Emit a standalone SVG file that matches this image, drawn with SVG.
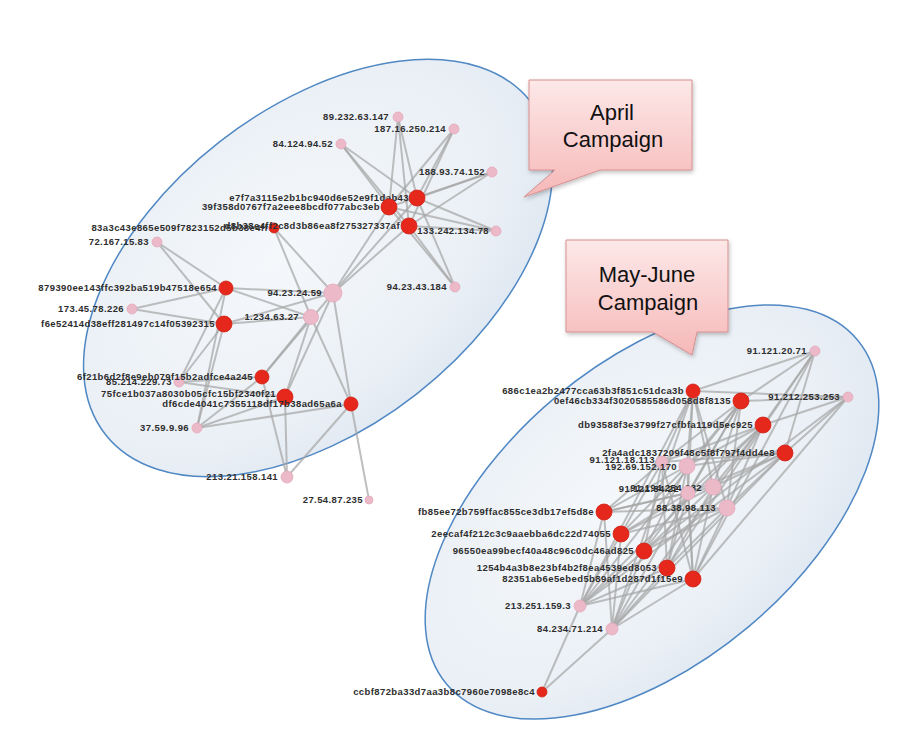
<svg xmlns="http://www.w3.org/2000/svg" width="912" height="738" viewBox="0 0 912 738">
<defs>
<radialGradient id="eg" cx="45%" cy="40%" r="60%">
<stop offset="0" stop-color="#f5f8fb"/>
<stop offset="0.75" stop-color="#ebf0f6"/>
<stop offset="1" stop-color="#e1e9f2"/>
</radialGradient>
<linearGradient id="cg" x1="0" y1="0" x2="0" y2="1">
<stop offset="0" stop-color="#fde8e8"/>
<stop offset="1" stop-color="#f6b8b8"/>
</linearGradient>
<filter id="sh" x="-20%" y="-20%" width="140%" height="140%">
<feDropShadow dx="1" dy="2" stdDeviation="2" flood-color="#000" flood-opacity="0.25"/>
</filter>
</defs>
<style>
.grp{fill:url(#eg);stroke:#5088c4;stroke-width:1.5}
.e line{stroke:#a6a6a6;stroke-width:2;stroke-opacity:0.72;stroke-linecap:round}
.r{fill:#e6281c;stroke:#d11f14;stroke-width:0.8}
.p{fill:#ecb9c9;stroke:#e3a9bb;stroke-width:0.8}
.n text{font-family:"Liberation Sans",Arial,sans-serif;font-weight:bold;font-size:9.5px;letter-spacing:0.4px;fill:#2e2e2e;text-anchor:end}
.call{fill:url(#cg);stroke:#d68f8f;stroke-width:1;filter:url(#sh)}
.ct{font-family:"Liberation Sans",Arial,sans-serif;font-size:22px;fill:#111;text-anchor:middle}
</style>
<rect width="912" height="738" fill="#ffffff"/>
<ellipse id="group-april" class="grp" cx="318" cy="268" rx="270" ry="160" transform="rotate(-38 318 268)"/>
<ellipse id="group-mayjune" class="grp" cx="652" cy="512" rx="268" ry="150" transform="rotate(-40 652 512)"/>

<g id="connectors" class="e">
<line x1="417" y1="198" x2="398" y2="117"/><line x1="417" y1="198" x2="454" y2="129"/><line x1="417" y1="198" x2="341" y2="144"/><line x1="417" y1="198" x2="492" y2="172"/><line x1="417" y1="198" x2="496" y2="231"/><line x1="417" y1="198" x2="455" y2="287"/><line x1="417" y1="198" x2="333" y2="293"/>
<line x1="389" y1="207" x2="398" y2="117"/><line x1="389" y1="207" x2="454" y2="129"/><line x1="389" y1="207" x2="341" y2="144"/><line x1="389" y1="207" x2="492" y2="172"/><line x1="389" y1="207" x2="496" y2="231"/><line x1="389" y1="207" x2="455" y2="287"/><line x1="389" y1="207" x2="333" y2="293"/>
<line x1="409" y1="226" x2="398" y2="117"/><line x1="409" y1="226" x2="454" y2="129"/><line x1="409" y1="226" x2="341" y2="144"/><line x1="409" y1="226" x2="492" y2="172"/><line x1="409" y1="226" x2="496" y2="231"/><line x1="409" y1="226" x2="455" y2="287"/><line x1="409" y1="226" x2="333" y2="293"/>
<line x1="274" y1="228" x2="333" y2="293"/><line x1="274" y1="228" x2="311" y2="317"/>
<line x1="226" y1="288" x2="157" y2="242"/><line x1="224" y1="324" x2="157" y2="242"/>
<line x1="226" y1="288" x2="132" y2="309"/><line x1="224" y1="324" x2="132" y2="309"/>
<line x1="226" y1="288" x2="333" y2="293"/><line x1="226" y1="288" x2="311" y2="317"/>
<line x1="224" y1="324" x2="333" y2="293"/><line x1="224" y1="324" x2="311" y2="317"/>
<line x1="226" y1="288" x2="179" y2="382"/><line x1="224" y1="324" x2="179" y2="382"/>
<line x1="226" y1="288" x2="197" y2="428"/><line x1="224" y1="324" x2="197" y2="428"/>
<line x1="262" y1="377" x2="311" y2="317"/><line x1="262" y1="377" x2="333" y2="293"/>
<line x1="285" y1="397" x2="311" y2="317"/><line x1="285" y1="397" x2="333" y2="293"/>
<line x1="351" y1="404" x2="311" y2="317"/><line x1="351" y1="404" x2="333" y2="293"/>
<line x1="262" y1="377" x2="179" y2="382"/><line x1="285" y1="397" x2="179" y2="382"/>
<line x1="262" y1="377" x2="197" y2="428"/><line x1="285" y1="397" x2="197" y2="428"/><line x1="351" y1="404" x2="197" y2="428"/>
<line x1="262" y1="377" x2="287" y2="477"/><line x1="285" y1="397" x2="287" y2="477"/><line x1="351" y1="404" x2="287" y2="477"/>
<line x1="351" y1="404" x2="369" y2="500"/>
<line x1="693" y1="391" x2="662" y2="462"/><line x1="693" y1="391" x2="687" y2="466"/><line x1="693" y1="391" x2="713" y2="487"/><line x1="693" y1="391" x2="688" y2="493"/><line x1="693" y1="391" x2="727" y2="508"/><line x1="693" y1="391" x2="580" y2="606"/><line x1="693" y1="391" x2="612" y2="629"/>
<line x1="741" y1="401" x2="662" y2="462"/><line x1="741" y1="401" x2="687" y2="466"/><line x1="741" y1="401" x2="713" y2="487"/><line x1="741" y1="401" x2="688" y2="493"/><line x1="741" y1="401" x2="727" y2="508"/><line x1="741" y1="401" x2="580" y2="606"/><line x1="741" y1="401" x2="612" y2="629"/>
<line x1="763" y1="425" x2="662" y2="462"/><line x1="763" y1="425" x2="687" y2="466"/><line x1="763" y1="425" x2="713" y2="487"/><line x1="763" y1="425" x2="688" y2="493"/><line x1="763" y1="425" x2="727" y2="508"/><line x1="763" y1="425" x2="580" y2="606"/><line x1="763" y1="425" x2="612" y2="629"/>
<line x1="785" y1="453" x2="662" y2="462"/><line x1="785" y1="453" x2="687" y2="466"/><line x1="785" y1="453" x2="713" y2="487"/><line x1="785" y1="453" x2="688" y2="493"/><line x1="785" y1="453" x2="727" y2="508"/><line x1="785" y1="453" x2="580" y2="606"/><line x1="785" y1="453" x2="612" y2="629"/>
<line x1="604" y1="512" x2="662" y2="462"/><line x1="604" y1="512" x2="687" y2="466"/><line x1="604" y1="512" x2="713" y2="487"/><line x1="604" y1="512" x2="688" y2="493"/><line x1="604" y1="512" x2="727" y2="508"/><line x1="604" y1="512" x2="580" y2="606"/><line x1="604" y1="512" x2="612" y2="629"/>
<line x1="621" y1="534" x2="662" y2="462"/><line x1="621" y1="534" x2="687" y2="466"/><line x1="621" y1="534" x2="713" y2="487"/><line x1="621" y1="534" x2="688" y2="493"/><line x1="621" y1="534" x2="727" y2="508"/><line x1="621" y1="534" x2="580" y2="606"/><line x1="621" y1="534" x2="612" y2="629"/>
<line x1="644" y1="551" x2="662" y2="462"/><line x1="644" y1="551" x2="687" y2="466"/><line x1="644" y1="551" x2="713" y2="487"/><line x1="644" y1="551" x2="688" y2="493"/><line x1="644" y1="551" x2="727" y2="508"/><line x1="644" y1="551" x2="580" y2="606"/><line x1="644" y1="551" x2="612" y2="629"/>
<line x1="667" y1="568" x2="662" y2="462"/><line x1="667" y1="568" x2="687" y2="466"/><line x1="667" y1="568" x2="713" y2="487"/><line x1="667" y1="568" x2="688" y2="493"/><line x1="667" y1="568" x2="727" y2="508"/><line x1="667" y1="568" x2="580" y2="606"/><line x1="667" y1="568" x2="612" y2="629"/>
<line x1="693" y1="579" x2="662" y2="462"/><line x1="693" y1="579" x2="687" y2="466"/><line x1="693" y1="579" x2="713" y2="487"/><line x1="693" y1="579" x2="688" y2="493"/><line x1="693" y1="579" x2="727" y2="508"/><line x1="693" y1="579" x2="580" y2="606"/><line x1="693" y1="579" x2="612" y2="629"/>
<line x1="815" y1="351" x2="741" y2="401"/><line x1="815" y1="351" x2="763" y2="425"/><line x1="815" y1="351" x2="785" y2="453"/><line x1="815" y1="351" x2="693" y2="391"/><line x1="815" y1="351" x2="693" y2="579"/><line x1="815" y1="351" x2="667" y2="568"/>
<line x1="848" y1="397" x2="741" y2="401"/><line x1="848" y1="397" x2="763" y2="425"/><line x1="848" y1="397" x2="785" y2="453"/><line x1="848" y1="397" x2="693" y2="391"/><line x1="848" y1="397" x2="693" y2="579"/><line x1="848" y1="397" x2="644" y2="551"/>
<line x1="542" y1="692" x2="580" y2="606"/><line x1="542" y1="692" x2="612" y2="629"/>
</g>

<g id="n-89-232-63-147" class="n"><circle class="p" cx="398" cy="117" r="5"/><text x="389" y="120">89.232.63.147</text></g>
<g id="n-187-16-250-214" class="n"><circle class="p" cx="454" cy="129" r="5"/><text x="446" y="132">187.16.250.214</text></g>
<g id="n-84-124-94-52" class="n"><circle class="p" cx="341" cy="144" r="5"/><text x="333" y="147">84.124.94.52</text></g>
<g id="n-188-93-74-152" class="n"><circle class="p" cx="492" cy="172" r="5"/><text x="485" y="175">188.93.74.152</text></g>
<g id="n-133-242-134-78" class="n"><circle class="p" cx="496" cy="231" r="5"/><text x="489" y="234">133.242.134.78</text></g>
<g id="n-94-23-43-184" class="n"><circle class="p" cx="455" cy="287" r="5"/><text x="447" y="290">94.23.43.184</text></g>
<g id="n-94-23-24-59" class="n"><circle class="p" cx="333" cy="293" r="9"/><text x="322" y="296">94.23.24.59</text></g>
<g id="n-1-234-63-27" class="n"><circle class="p" cx="311" cy="317" r="7.5"/><text x="299" y="320">1.234.63.27</text></g>
<g id="n-72-167-15-83" class="n"><circle class="p" cx="157" cy="242" r="5"/><text x="149" y="245">72.167.15.83</text></g>
<g id="n-173-45-78-226" class="n"><circle class="p" cx="132" cy="309" r="5"/><text x="124" y="312">173.45.78.226</text></g>
<g id="n-85-214-229-73" class="n"><circle class="p" cx="179" cy="382" r="5"/><text x="172" y="385">85.214.229.73</text></g>
<g id="n-37-59-9-96" class="n"><circle class="p" cx="197" cy="428" r="5"/><text x="189" y="431">37.59.9.96</text></g>
<g id="n-213-21-158-141" class="n"><circle class="p" cx="287" cy="477" r="6"/><text x="278" y="480">213.21.158.141</text></g>
<g id="n-27-54-87-235" class="n"><circle class="p" cx="369" cy="500" r="4"/><text x="363" y="503">27.54.87.235</text></g>
<g id="n-e7f7a311" class="n"><circle class="r" cx="417" cy="198" r="8"/><text x="409" y="201">e7f7a3115e2b1bc940d6e52e9f1dab43</text></g>
<g id="n-39f358d0" class="n"><circle class="r" cx="389" cy="207" r="8"/><text x="380" y="210">39f358d0767f7a2eee8bcdf077abc3eb</text></g>
<g id="n-83a3c43e" class="n"><circle class="r" cx="274" cy="228" r="5"/><text x="268" y="231">83a3c43e865e509f7823152d5b38e4ff</text></g>
<g id="n-d8b38e4f" class="n"><circle class="r" cx="409" cy="226" r="8"/><text x="400" y="229">d8b38e4ff2c8d3b86ea8f275327337af</text></g>
<g id="n-879390ee" class="n"><circle class="r" cx="226" cy="288" r="7"/><text x="217" y="291">879390ee143ffc392ba519b47518e654</text></g>
<g id="n-f6e52414" class="n"><circle class="r" cx="224" cy="324" r="8"/><text x="215" y="327">f6e52414d38eff281497c14f05392315</text></g>
<g id="n-6f21b6d2" class="n"><circle class="r" cx="262" cy="377" r="7"/><text x="253" y="380">6f21b6d2f8e9eb079f15b2adfce4a245</text></g>
<g id="n-75fce1b0" class="n"><circle class="r" cx="285" cy="397" r="8"/><text x="276" y="397">75fce1b037a8030b05cfc15bf2340f21</text></g>
<g id="n-df6cde40" class="n"><circle class="r" cx="351" cy="404" r="7"/><text x="342" y="407">df6cde4041c7355118df17b38ad65a6a</text></g>

<g id="n-91-121-20-71" class="n"><circle class="p" cx="815" cy="351" r="5"/><text x="807" y="354">91.121.20.71</text></g>
<g id="n-91-212-253-253" class="n"><circle class="p" cx="848" cy="397" r="5"/><text x="840" y="400">91.212.253.253</text></g>
<g id="n-91-121-18-113" class="n"><circle class="p" cx="662" cy="462" r="6"/><text x="655" y="463">91.121.18.113</text></g>
<g id="n-192-69-152-170" class="n"><circle class="p" cx="687" cy="466" r="8"/><text x="677" y="470">192.69.152.170</text></g>
<g id="n-91-194-254-232" class="n"><circle class="p" cx="713" cy="487" r="8"/><text x="702" y="491">91.194.254.232</text></g>
<g id="n-91-121-84-22" class="n"><circle class="p" cx="688" cy="493" r="7"/><text x="679" y="492">91.121.84.22</text></g>
<g id="n-88-38-98-113" class="n"><circle class="p" cx="727" cy="508" r="8"/><text x="716" y="511">88.38.98.113</text></g>
<g id="n-213-251-159-3" class="n"><circle class="p" cx="580" cy="606" r="6"/><text x="571" y="609">213.251.159.3</text></g>
<g id="n-84-234-71-214" class="n"><circle class="p" cx="612" cy="629" r="6"/><text x="603" y="632">84.234.71.214</text></g>
<g id="n-686c1ea2" class="n"><circle class="r" cx="693" cy="391" r="7"/><text x="684" y="394">686c1ea2b2477cca63b3f851c51dca3b</text></g>
<g id="n-0ef46cb3" class="n"><circle class="r" cx="741" cy="401" r="8"/><text x="731" y="404">0ef46cb334f3020585586d058d8f8135</text></g>
<g id="n-db93588f" class="n"><circle class="r" cx="763" cy="425" r="8"/><text x="753" y="428">db93588f3e3799f27cfbfa119d5ec925</text></g>
<g id="n-2fa4adc1" class="n"><circle class="r" cx="785" cy="453" r="8"/><text x="775" y="456">2fa4adc1837209f48c5f8f797f4dd4e8</text></g>
<g id="n-fb85ee72" class="n"><circle class="r" cx="604" cy="512" r="8"/><text x="594" y="515">fb85ee72b759ffac855ce3db17ef5d8e</text></g>
<g id="n-2eecaf4f" class="n"><circle class="r" cx="621" cy="534" r="8"/><text x="611" y="537">2eecaf4f212c3c9aaebba6dc22d74055</text></g>
<g id="n-96550ea9" class="n"><circle class="r" cx="644" cy="551" r="8"/><text x="634" y="554">96550ea99becf40a48c96c0dc46ad825</text></g>
<g id="n-1254b4a3" class="n"><circle class="r" cx="667" cy="568" r="8"/><text x="657" y="571">1254b4a3b8e23bf4b2f8ea4539ed8053</text></g>
<g id="n-82351ab6" class="n"><circle class="r" cx="693" cy="579" r="8"/><text x="683" y="582">82351ab6e5ebed5b89af1d287d1f15e9</text></g>
<g id="n-ccbf872b" class="n"><circle class="r" cx="542" cy="692" r="5"/><text x="535" y="695">ccbf872ba33d7aa3b8c7960e7098e8c4</text></g>

<g id="callout-april">
<path class="call" d="M529,80 H692 V170 H600 L524,197 L555,170 H529 Z"/>
<text class="ct" x="612" y="120">April</text>
<text class="ct" x="613" y="147">Campaign</text>
</g>
<g id="callout-mayjune">
<path class="call" d="M566,240 H728 V332 H697 L692,355 L653,332 H566 Z"/>
<text class="ct" x="647" y="282">May-June</text>
<text class="ct" x="648" y="310">Campaign</text>
</g>
</svg>
